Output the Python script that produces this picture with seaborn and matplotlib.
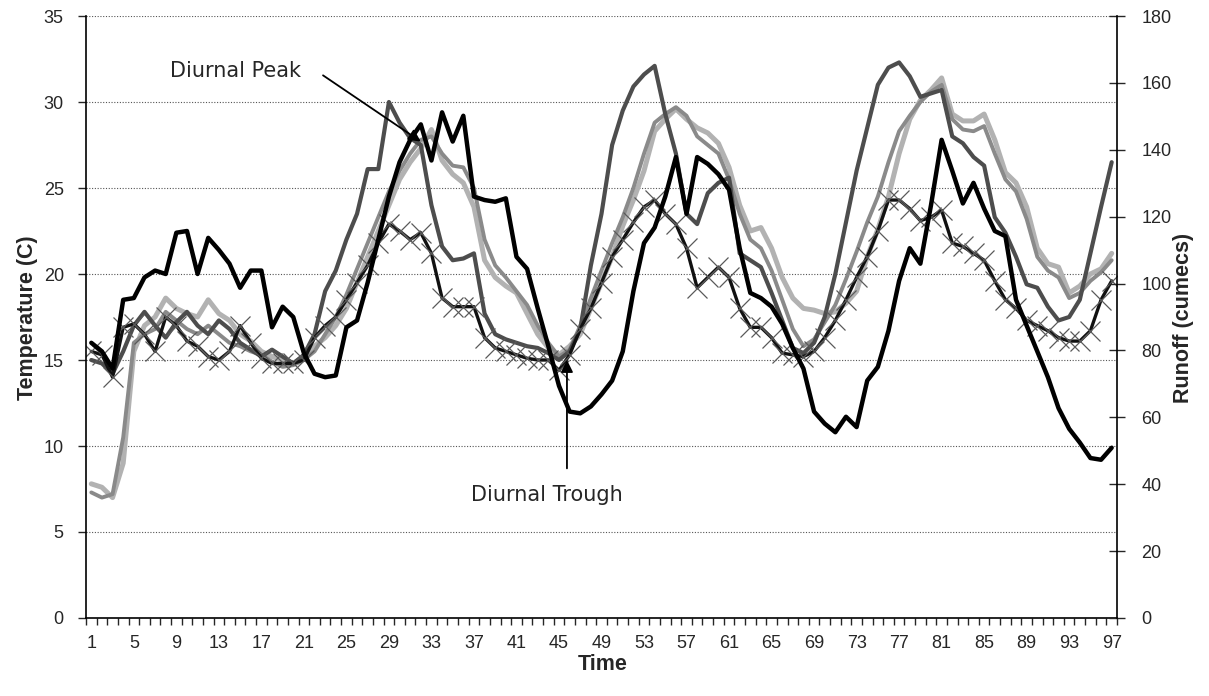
import numpy as np
import pandas as pd
import seaborn as sns
import matplotlib.pyplot as plt

# time steps (categories on the x axis)
time = list(range(1, 98))
time_labels = list(range(1, 98, 4))

# temperature series
t_black = [16.0, 15.5, 14.5, 18.5, 18.6, 19.8, 20.2, 20.0, 22.4, 22.5,
           20.0, 22.1, 21.4, 20.6, 19.2, 20.2, 20.2, 16.9, 18.1, 17.5,
           15.4, 14.2, 14.0, 14.1, 16.9, 17.3, 19.5, 22.0, 24.5, 26.5,
           27.8, 28.7, 26.6, 29.4, 27.7, 29.2, 24.5, 24.3, 24.2, 24.4,
           21.0, 20.3, 18.0, 15.8, 13.5, 12.0, 11.9, 12.3, 13.0, 13.8,
           15.5, 19.0, 21.8, 22.7, 24.5, 26.8, 23.5, 26.8, 26.4, 25.8,
           24.9, 21.5, 18.9, 18.6, 18.1, 17.1, 15.7, 14.5, 12.0, 11.3,
           10.8, 11.7, 11.1, 13.8, 14.6, 16.7, 19.6, 21.5, 20.6, 24.0,
           27.8, 26.0, 24.1, 25.3, 23.8, 22.5, 22.2, 18.5, 17.0, 15.5,
           14.0, 12.2, 11.0, 10.2, 9.3, 9.2, 9.9]

t_cross = [15.5, 15.3, 14.0, 16.9, 17.1, 16.5, 15.5, 17.5, 17.0, 16.1,
           15.8, 15.2, 15.0, 15.5, 17.0, 16.0, 15.1, 14.8, 14.8, 14.8,
           15.0, 16.3, 17.0, 17.5, 18.5, 19.5, 20.5, 21.8, 22.9, 22.5,
           22.0, 22.4, 21.2, 18.6, 18.1, 18.1, 18.1, 16.3, 15.7, 15.5,
           15.3, 15.1, 15.0, 15.0, 14.4, 15.3, 16.8, 18.0, 19.5, 21.0,
           22.0, 23.0, 23.9, 24.3, 23.5, 22.9, 21.5, 19.2, 19.8, 20.4,
           19.8, 18.0, 16.9, 16.9, 16.3, 15.4, 15.3, 15.2, 15.5, 16.3,
           17.3, 18.5, 19.8, 21.0, 22.5, 24.3, 24.3, 23.8, 23.1, 23.3,
           23.7, 21.8, 21.6, 21.2, 20.8, 19.6, 18.5, 18.0, 17.3, 17.0,
           16.7, 16.3, 16.1, 16.1, 16.7, 18.5, 19.6]

t_dark = [15.0, 14.8, 14.2, 15.5, 17.0, 17.8, 17.0, 16.3, 17.2, 17.8,
          17.0, 16.5, 17.3, 16.8, 16.0, 15.6, 15.2, 15.6, 15.2, 14.8,
          15.3, 16.5, 19.0, 20.2, 22.0, 23.5, 26.1, 26.1, 30.0, 28.8,
          27.9, 27.5, 24.0, 21.6, 20.8, 20.9, 21.2, 17.7, 16.5, 16.2,
          16.0, 15.8, 15.7, 15.4, 15.0, 15.5, 16.8, 20.5, 23.5, 27.5,
          29.5, 30.9, 31.6, 32.1, 29.3, 27.0, 23.5, 22.9, 24.7, 25.3,
          25.6, 21.2, 20.8, 20.4, 18.9, 17.3, 15.7, 15.4, 16.0, 17.5,
          20.0, 23.0, 26.0, 28.5, 31.0, 32.0, 32.3, 31.5, 30.3, 30.5,
          30.7, 28.0, 27.6, 26.8, 26.3, 23.3, 22.4, 21.0, 19.4, 19.2,
          18.1, 17.3, 17.5, 18.5, 21.2, 23.9, 26.5]

t_light = [7.8, 7.6, 7.0, 9.0, 15.5, 17.0, 17.5, 18.6, 18.0, 17.7,
           17.5, 18.5, 17.7, 17.3, 16.5, 16.1, 15.5, 15.2, 15.0, 14.8,
           15.2, 15.8, 16.3, 17.0, 18.0, 19.5, 21.0, 22.5, 24.0, 25.5,
           26.5, 27.3, 28.4, 26.6, 25.8, 25.3, 23.9, 20.8, 19.8, 19.3,
           18.9, 17.7, 16.5, 15.7, 15.3, 15.8, 16.5, 18.0, 19.5, 21.0,
           22.8, 24.3, 26.0, 28.3, 29.0, 29.6, 29.0, 28.5, 28.2, 27.6,
           26.2, 24.0, 22.5, 22.7, 21.5, 19.8, 18.6, 18.0, 17.9, 17.7,
           17.8, 18.3, 19.0, 21.0, 22.6, 24.5, 27.0, 29.0, 30.1, 30.7,
           31.4, 29.3, 28.9, 28.9, 29.3, 27.8, 25.9, 25.3, 23.9, 21.5,
           20.6, 20.4, 18.9, 19.3, 20.0, 20.3, 21.2]

t_mid = [7.3, 7.0, 7.2, 10.5, 16.0, 16.5, 16.8, 17.8, 17.3, 16.8,
         16.5, 17.0, 16.5, 16.0, 15.8, 15.5, 15.3, 14.9, 14.6, 14.7,
         15.0, 15.5, 16.5, 17.5, 18.8, 20.3, 21.8, 23.3, 24.8, 26.0,
         27.0, 27.8, 28.0, 27.0, 26.3, 26.2, 25.0, 22.0, 20.5, 19.8,
         19.0, 18.2, 17.0, 16.0, 15.2, 15.6, 17.0, 18.6, 20.2, 21.8,
         23.3, 25.0, 27.0, 28.8, 29.3, 29.7, 29.2, 28.0, 27.5, 27.0,
         25.5, 23.5, 22.0, 21.5, 20.2, 18.5, 16.8, 15.8, 16.2, 17.2,
         18.2, 19.7, 21.3, 23.0, 24.5, 26.5, 28.3, 29.2, 30.0, 30.6,
         31.0, 29.0, 28.4, 28.3, 28.6, 27.0, 25.5, 24.8, 23.2, 21.0,
         20.2, 19.8, 18.6, 18.9, 19.6, 20.1, 20.8]

df = pd.DataFrame({'Time': time, 'black': t_black, 'cross': t_cross,
                   'dark': t_dark, 'light': t_light, 'mid': t_mid})

sns.set_style('white')
plt.rcParams['font.family'] = ['Liberation Sans', 'DejaVu Sans']

fig = plt.figure(figsize=(12.09, 6.96), dpi=100)
ax = fig.add_axes([86 / 1209, 1 - 618 / 696, 1031 / 1209, 602 / 696])

# lines, lightest first so the black ones sit on top
sns.lineplot(data=df, x='Time', y='light', ax=ax, color='#b2b2b2', lw=3.6)
sns.lineplot(data=df, x='Time', y='mid', ax=ax, color='#8a8a8a', lw=2.8)
sns.lineplot(data=df, x='Time', y='dark', ax=ax, color='#4d4d4d', lw=3.0)
sns.lineplot(data=df, x='Time', y='cross', ax=ax, color='#111111', lw=2.4,
             marker='x', markersize=14, markeredgewidth=0.9,
             markeredgecolor='#5a5a5a')
sns.lineplot(data=df, x='Time', y='black', ax=ax, color='black', lw=3.2)

ax.set_xlim(0.5, 97.5)
ax.set_ylim(0, 35)
ax.set_xticks(time_labels)
ax.set_xticks(np.arange(0.5, 98, 1), minor=True)
ax.set_yticks(range(0, 36, 5))
ax.tick_params(axis='x', which='major', length=0, pad=12, labelsize=13)
ax.tick_params(axis='x', which='minor', bottom=True, length=5, width=1, direction='out')
ax.tick_params(axis='y', left=True, length=6, width=1, direction='out', pad=10, labelsize=13)
ax.set_xlabel('')
ax.set_ylabel('')

ax.yaxis.grid(True, linestyle=(0, (1, 1.5)), color='#555555', lw=0.8)
ax.xaxis.grid(False)
ax.set_axisbelow(True)
ax.spines['top'].set_visible(False)
ax.spines['right'].set_visible(False)
for s in ['left', 'bottom']:
    ax.spines[s].set_color('black')
    ax.spines[s].set_linewidth(1.2)

ax2 = ax.twinx()
ax2.set_ylim(0, 180)
ax2.set_yticks(range(0, 181, 20))
ax2.tick_params(axis='y', right=True, length=11, width=1, direction='inout', pad=12, labelsize=13)
for s in ['left', 'top', 'bottom']:
    ax2.spines[s].set_visible(False)
ax2.spines['right'].set_color('black')
ax2.spines['right'].set_linewidth(1.2)
ax2.grid(False)

# axis titles
fig.text(28 / 1209, 1 - 318 / 696, 'Temperature (C)', rotation=90, ha='center', va='center',
         fontsize=15.5, fontweight='bold')
fig.text(1183 / 1209, 1 - 318 / 696, 'Runoff (cumecs)', rotation=90, ha='center', va='center',
         fontsize=15.5, fontweight='bold')
fig.text(603 / 1209, 1 - 665 / 696, 'Time', ha='center', va='center',
         fontsize=15.5, fontweight='bold')

# annotations
arrow = dict(arrowstyle='-|>', color='black', lw=1.3, mutation_scale=18, shrinkA=0, shrinkB=0)
ax.text(8.4, 31.8, 'Diurnal Peak', family='DejaVu Sans', fontsize=15, ha='left', va='center')
ax.annotate('', xy=(32.0, 27.7), xytext=(22.8, 31.55), arrowprops=arrow, zorder=10)
ax.text(43.9, 7.15, 'Diurnal Trough', family='DejaVu Sans', fontsize=15, ha='center', va='center')
ax.annotate('', xy=(45.75, 15.0), xytext=(45.75, 8.7), arrowprops=arrow, zorder=10)

fig.savefig('out.png', dpi=100)
